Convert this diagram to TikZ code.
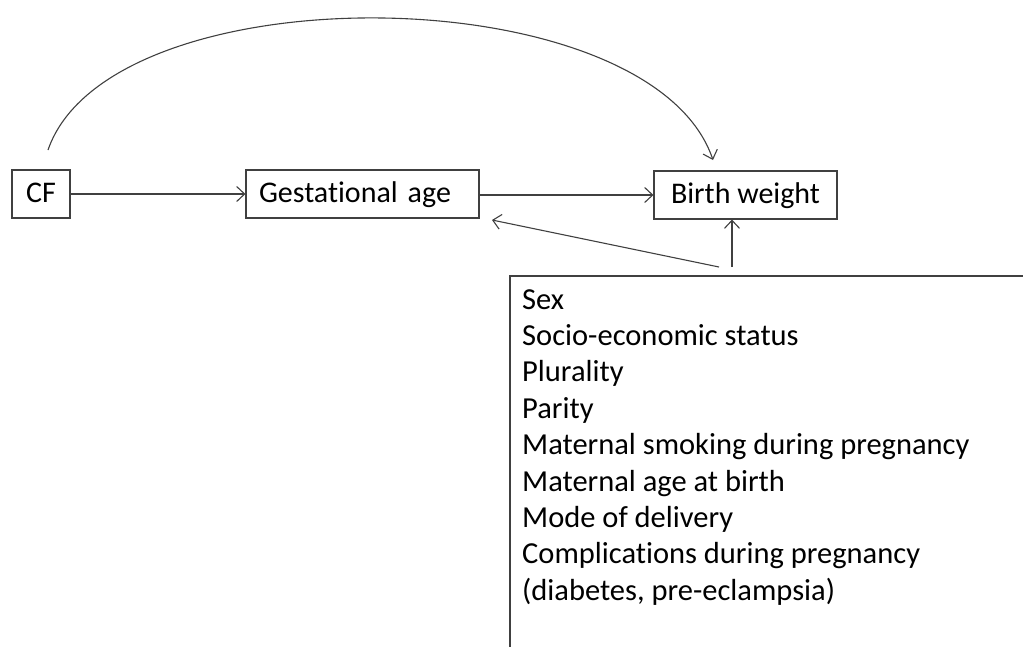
\documentclass[tikz,border=0pt]{standalone}
\usepackage{fontspec}
\setmainfont{Carlito}[RawFeature=-liga]
\usetikzlibrary{arrows.meta}
\definecolor{linec}{HTML}{404040}
\tikzset{
  boxnode/.style={draw=linec, line width=1.1pt, minimum height=48pt, inner sep=0pt,
    text height=17pt, text depth=0pt,
    font=\fontsize{30}{34}\selectfont, text=black},
  conn/.style={draw=linec, line width=1.1pt, -{Straight Barb[length=8pt,width=15pt,line width=1.1pt]}},
  listtext/.style={anchor=north west, inner sep=0pt, align=left,
    font=\fontsize{30.5}{36.4}\selectfont, text=black}
}
\begin{document}
\begin{tikzpicture}[x=1pt,y=-1pt]
\useasboundingbox (0,0) rectangle (1023,646);
\node[boxnode, minimum width=58pt] (cf) at (41,194) {CF};
\node[boxnode, inner xsep=13pt, text width=207pt, align=left] (ga) at (362.5,194) {Gestational age};
\node[boxnode, minimum width=183pt] (bw) at (745.5,195) {Birth weight};
\node[listtext] (conf) at (522,289) {Sex\\Socio-economic status\\Plurality\\Parity\\Maternal smoking during pregnancy\\Maternal age at birth\\Mode of delivery\\Complications during pregnancy\\(diabetes, pre-eclampsia)};
\coordinate (frTR) at (1024,276);
\coordinate (frTL) at (510,276);
\coordinate (frBL) at (510,647);
\draw[draw=linec, line width=1.1pt] (frTR) -- (frTL) -- (frBL);
\coordinate (cstart) at (48,150);
\coordinate (cend) at (713,160);
\coordinate (s1) at (719,267);
\coordinate (s2) at (732,267);
\coordinate (gaend) at (492,220);
\draw[conn] (cf.east) -- (ga.west |- cf.east);
\draw[conn] (ga.east |- bw.west) -- (bw.west);
\draw[conn] (cstart) .. controls (110,-30) and (650,-25) .. (cend);
\draw[conn] (s1) -- (gaend);
\draw[conn] (s2) -- (s2 |- bw.south);
\end{tikzpicture}
\end{document}
